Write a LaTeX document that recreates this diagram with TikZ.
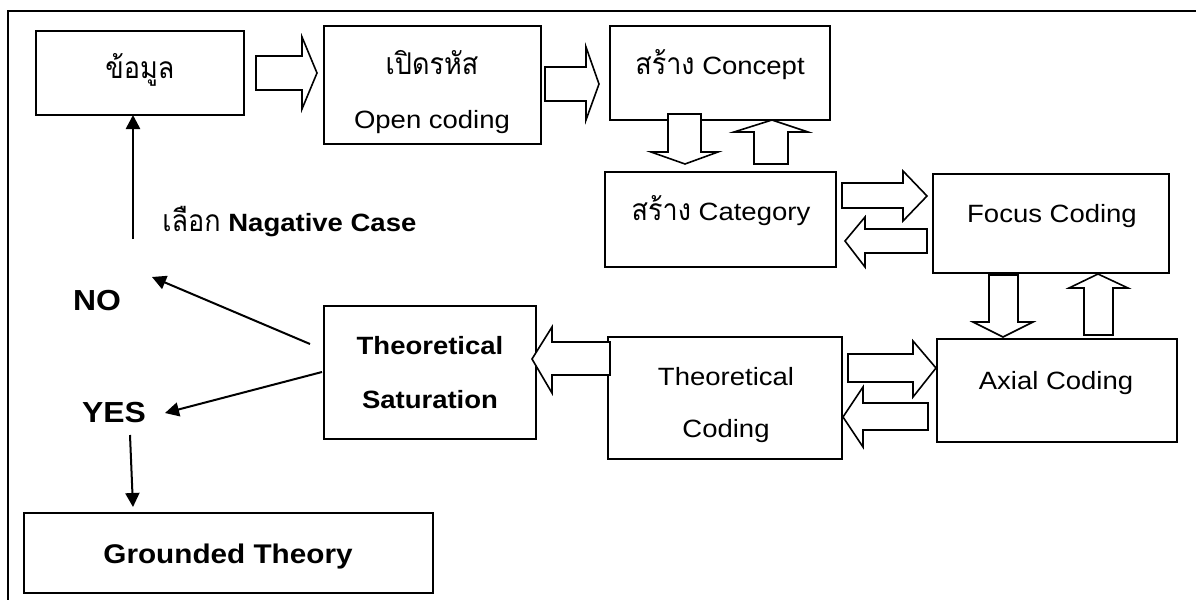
\documentclass[tikz,border=0pt]{standalone}
\usepackage{fontspec}
\setmainfont{Liberation Sans}[FakeStretch=1.1]
\newfontfamily\thai[Script=Thai, FakeStretch=0.9]{Loma}
\usetikzlibrary{arrows.meta}

\begin{document}
\begin{tikzpicture}[x=0.5pt,y=-0.5pt,
  box/.style={draw, line width=1.1pt, inner sep=0pt, outer sep=0pt},
  blk/.style={draw, fill=white, line width=0.8pt, line join=miter, miter limit=10},
  conn/.style={line width=1pt, -{Triangle[length=7pt,width=7pt]}},
  lbl/.style={anchor=base, inner sep=0pt, font=\fontsize{12.5}{15}\selectfont},
  lblb/.style={anchor=base, inner sep=0pt, font=\fontsize{12.5}{15}\selectfont\bfseries},
  big/.style={anchor=base, inner sep=0pt, font=\fontsize{14.5}{17}\selectfont\bfseries},
  th/.style={font=\thai\fontsize{15}{17}\selectfont}]

\useasboundingbox (0,0) rectangle (1196,600);
\clip (0,0) rectangle (1196,600);

% outer frame (only top and left edges fall inside the page)
\draw[line width=1pt] (8,11) rectangle (1260,660);

% process boxes
\node[box, minimum width=104pt,   minimum height=42pt]   (data)  at (140,73)     {};
\node[box, minimum width=108.5pt, minimum height=59pt]   (open)  at (432.5,85)   {};
\node[box, minimum width=110pt,   minimum height=47pt]   (conc)  at (720,73)     {};
\node[box, minimum width=115.5pt, minimum height=47.5pt] (cat)   at (720.5,219.5){};
\node[box, minimum width=118pt,   minimum height=49.5pt] (focus) at (1051,223.5) {};
\node[box, minimum width=120pt,   minimum height=51.5pt] (axial) at (1057,390.5) {};
\node[box, minimum width=117pt,   minimum height=61pt]   (theo)  at (725,398)    {};
\node[box, minimum width=106pt,   minimum height=66.5pt] (sat)   at (430,372.5)  {};
\node[box, minimum width=204.5pt, minimum height=40pt]   (gt)    at (228.5,553)  {};

% box texts
\node[lbl, th] (tData) at (140,78) {ข้อมูล};
\node[lbl, th] (tOpen1) at (432,74) {เปิดรหัส};
\node[lbl] (tOpen2) at (432,128) {Open coding};
\node[lbl] (tConc) at (720,74) {{\thai\fontsize{15}{17}\selectfont สร้าง} Concept};
\node[lbl] (tCat) at (721,220) {{\thai\fontsize{15}{17}\selectfont สร้าง} Category};
\node[lbl] (tFocus) at (1052,222) {Focus Coding};
\node[lbl] (tAxial) at (1056,389) {Axial Coding};
\node[lbl] (tTheo1) at (726,385) {Theoretical};
\node[lbl] (tTheo2) at (726,437) {Coding};
\node[lblb] (tSat1) at (430,354) {Theoretical};
\node[lblb] (tSat2) at (430,408) {Saturation};
\node[anchor=base, inner sep=0pt, font=\fontsize{13.5}{16}\selectfont\bfseries] (tGt) at (228,563) {Grounded Theory};

% decision labels
\node[big] (no) at (97,310) {NO};
\node[big] (yes) at (114,422) {YES};
\node[anchor=base west, inner sep=0pt, font=\fontsize{12.5}{15}\selectfont] (neg) at (162,231)
  {{\thai\fontsize{15}{17}\selectfont เลือก} \textbf{Nagative Case}};

% block arrows between the coding stages
\draw[blk] (256,56)--(302,56)--(302,37)--(317,73)--(302,109)--(302,90)--(256,90)--cycle;
\draw[blk] (545,67)--(586,67)--(586,47)--(599,84)--(586,120)--(586,101)--(545,101)--cycle;
\draw[blk] (668,114)--(668,152)--(651,152)--(685,164)--(718,152)--(701,152)--(701,114)--cycle;
\draw[blk] (754,164)--(754,132)--(734,132)--(772,120)--(808,132)--(788,132)--(788,164)--cycle;
\draw[blk] (842,183)--(903,183)--(903,171)--(927,196)--(903,221)--(903,208)--(842,208)--cycle;
\draw[blk] (927,229)--(865,229)--(865,217)--(845,241)--(865,267)--(865,253)--(927,253)--cycle;
\draw[blk] (989,275)--(989,322)--(973,322)--(1003,337)--(1033,322)--(1018,322)--(1018,275)--cycle;
\draw[blk] (1084,335)--(1084,288)--(1069,288)--(1098,274)--(1128,288)--(1113,288)--(1113,335)--cycle;
\draw[blk] (848,354)--(913,354)--(913,341)--(936,368)--(913,397)--(913,382)--(848,382)--cycle;
\draw[blk] (928,403)--(863,403)--(863,387)--(843,417)--(863,447)--(863,430)--(928,430)--cycle;
\draw[blk] (610,342)--(552,342)--(552,327)--(532,359)--(552,393)--(552,375)--(610,375)--cycle;

% decision connectors
\coordinate (negTail) at (133,239);
\coordinate (noTail)  at (310,344);
\coordinate (noTip)   at (152,277);
\coordinate (yesTail) at (322,372);
\coordinate (yesTip)  at (165,413);
\coordinate (gtTail)  at (130,435);
\coordinate (gtTip)   at (133,507);
\draw[conn, line width=1.3pt] (negTail) -- (negTail |- data.south);
\draw[conn] (noTail) -- (noTip);
\draw[conn] (yesTail) -- (yesTip);
\draw[conn] (gtTail) -- (gtTip);
\end{tikzpicture}
\end{document}
